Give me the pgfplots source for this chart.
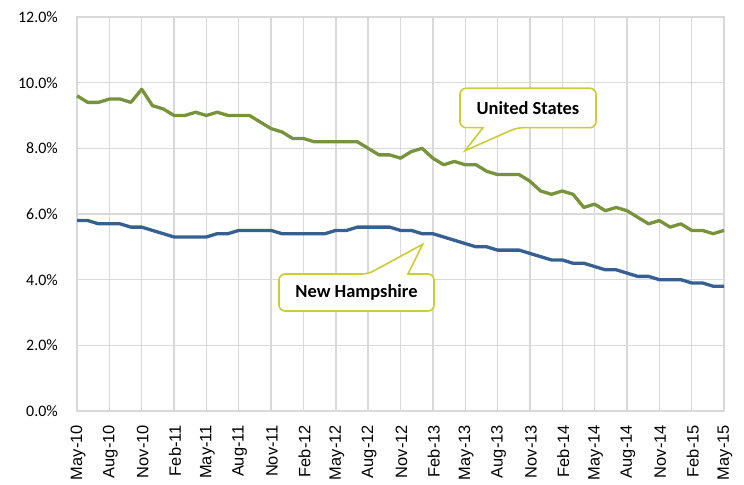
\documentclass[border=0pt]{standalone}
\usepackage{pgfplots}
\pgfplotsset{compat=1.18}
\usepackage{pgfplotstable}
\usepackage{fontspec}
\setmainfont{Carlito}
\newfontfamily\arialfont{Liberation Sans}
\definecolor{usgreen}{HTML}{77933C}
\definecolor{nhblue}{HTML}{376092}
\definecolor{gridgray}{HTML}{D9D9D9}
\definecolor{callout}{HTML}{CCCC33}

\pgfplotstableread{
i us nh
0 9.6 5.8
1 9.4 5.8
2 9.4 5.7
3 9.5 5.7
4 9.5 5.7
5 9.4 5.6
6 9.8 5.6
7 9.3 5.5
8 9.2 5.4
9 9.0 5.3
10 9.0 5.3
11 9.1 5.3
12 9.0 5.3
13 9.1 5.4
14 9.0 5.4
15 9.0 5.5
16 9.0 5.5
17 8.8 5.5
18 8.6 5.5
19 8.5 5.4
20 8.3 5.4
21 8.3 5.4
22 8.2 5.4
23 8.2 5.4
24 8.2 5.5
25 8.2 5.5
26 8.2 5.6
27 8.0 5.6
28 7.8 5.6
29 7.8 5.6
30 7.7 5.5
31 7.9 5.5
32 8.0 5.4
33 7.7 5.4
34 7.5 5.3
35 7.6 5.2
36 7.5 5.1
37 7.5 5.0
38 7.3 5.0
39 7.2 4.9
40 7.2 4.9
41 7.2 4.9
42 7.0 4.8
43 6.7 4.7
44 6.6 4.6
45 6.7 4.6
46 6.6 4.5
47 6.2 4.5
48 6.3 4.4
49 6.1 4.3
50 6.2 4.3
51 6.1 4.2
52 5.9 4.1
53 5.7 4.1
54 5.8 4.0
55 5.6 4.0
56 5.7 4.0
57 5.5 3.9
58 5.5 3.9
59 5.4 3.8
60 5.5 3.8
}\datatable

\begin{document}
\begin{tikzpicture}
\useasboundingbox (0,0) rectangle (744bp,485bp);
\begin{axis}[
  at={(77bp,74bp)}, anchor=south west,
  width=647bp, height=394bp, scale only axis,
  xmin=0, xmax=60, ymin=0, ymax=12,
  xtick={0,3,...,60},
  xticklabels={May-10,Aug-10,Nov-10,Feb-11,May-11,Aug-11,Nov-11,Feb-12,May-12,Aug-12,Nov-12,Feb-13,May-13,Aug-13,Nov-13,Feb-14,May-14,Aug-14,Nov-14,Feb-15,May-15},
  ytick={0,2,...,12},
  yticklabels={0.0\%,2.0\%,4.0\%,6.0\%,8.0\%,10.0\%,12.0\%},
  grid=major,
  grid style={gridgray, line width=1.4bp},
  axis line style={gridgray, line width=1.4bp},
  major tick length=0pt,
  tick style={draw=none},
  x tick label style={rotate=90, anchor=east, font=\arialfont\fontsize{16.5}{16.5}\selectfont, inner sep=0pt, xshift=-14bp, yshift=-1bp},
  y tick label style={anchor=east, font=\fontsize{16}{16}\selectfont, inner sep=0pt, xshift=-19bp},
  clip=false,
]
\addplot[usgreen, line width=3.3bp, line join=round] table[x=i, y=us] {\datatable};
\addplot[nhblue, line width=3.3bp, line join=round] table[x=i, y=nh] {\datatable};
\end{axis}
\begin{scope}[x=1bp, y=-1bp, shift={(0,485bp)}]
\draw[callout, line width=1.6bp, fill=white]
  (483,127.7) [rounded corners=6bp] -- (460,127.7) -- (460,88.3) -- (596,88.3) -- (596,127.7) -- (517,127.7) [sharp corners] -- (465,150.7) -- cycle;
\node[font=\bfseries\fontsize{18.5}{18.5}\selectfont] at (528,108) {United States};
\draw[callout, line width=1.6bp, fill=white]
  (408,274) [rounded corners=6bp] -- (434,274) -- (434,311) -- (279,311) -- (279,274) -- (368,274) [sharp corners] -- (422.7,244.3) -- cycle;
\node[font=\bfseries\fontsize{18.5}{18.5}\selectfont] at (356.5,292.5) {New Hampshire};
\end{scope}
\end{tikzpicture}
\end{document}
